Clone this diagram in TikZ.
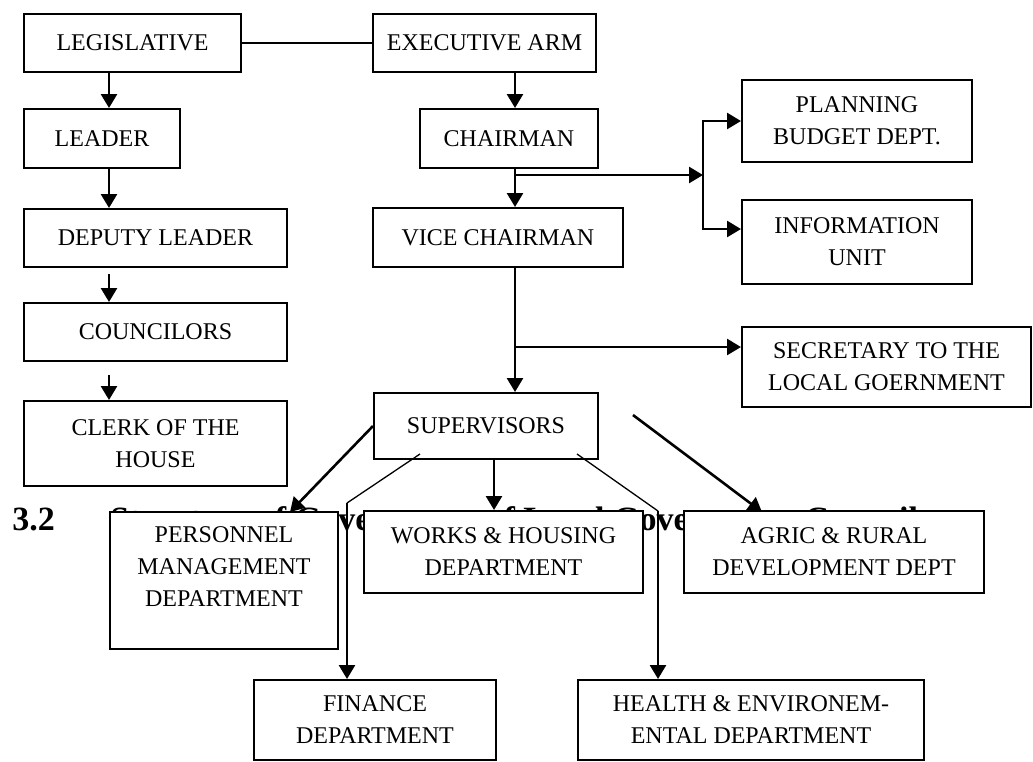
\documentclass[tikz,border=0pt]{standalone}
\usepackage{fontspec}
\setmainfont{Liberation Serif}
\usepackage{tikz}
\usetikzlibrary{positioning, arrows.meta}

\begin{document}
\begin{tikzpicture}[x=0.5pt, y=-0.5pt,
        orgbox/.style={draw, fill=white, line width=1pt, anchor=north west, inner sep=0pt,
            align=center, font=\fontsize{12}{16}\selectfont},
        headtext/.style={anchor=base west, inner sep=0pt, font=\fontsize{17}{20}\selectfont\bfseries},
        arr/.style={line width=1.3pt, -{Triangle[length=7pt,width=8pt]}},
        link/.style={line width=1pt},
        thinlink/.style={line width=0.65pt}]
    \useasboundingbox (0,0) rectangle (1033,761);
    \node[headtext] (secnum) at (12,530) {3.2};
    \node[headtext] (sectitle) at (110,530) {Structure of Government of Local Government Council};

    \node[orgbox, minimum width=108.5pt, minimum height=29pt] (leg) at (23,13) {LEGISLATIVE};
    \node[orgbox, minimum width=111.5pt, minimum height=29pt] (exec) at (372,13) {EXECUTIVE ARM};
    \node[orgbox, minimum width=78pt, minimum height=29.5pt] (leader) at (23,108) {LEADER};
    \node[orgbox, minimum width=89pt, minimum height=29.5pt] (chair) at (419,108) {CHAIRMAN};
    \node[orgbox, minimum width=115pt, minimum height=41pt] (plan) at (741,79) {PLANNING\\BUDGET DEPT.};
    \node[orgbox, minimum width=131.5pt, minimum height=29pt] (deputy) at (23,208) {DEPUTY LEADER};
    \node[orgbox, minimum width=125pt, minimum height=29.5pt] (vice) at (372,207) {VICE CHAIRMAN};
    \node[orgbox, minimum width=115pt, minimum height=42pt] (info) at (741,199) {INFORMATION\\UNIT};
    \node[orgbox, minimum width=131.5pt, minimum height=29pt] (council) at (23,302) {COUNCILORS};
    \node[orgbox, minimum width=144.5pt, minimum height=40pt] (secr) at (741,326) {SECRETARY TO THE\\LOCAL GOERNMENT};
    \node[orgbox, minimum width=131.5pt, minimum height=42.5pt] (clerk) at (23,400) {CLERK OF THE\\HOUSE};
    \node[orgbox, minimum width=112pt, minimum height=33pt] (super) at (373,392) {SUPERVISORS};
    \node[orgbox, minimum width=114pt, minimum height=68.5pt, text depth=14pt] (personnel) at (109,511) {PERSONNEL\\MANAGEMENT\\DEPARTMENT};
    \node[orgbox, minimum width=139.5pt, minimum height=41pt] (works) at (363,510) {WORKS \& HOUSING\\DEPARTMENT};
    \node[orgbox, minimum width=150pt, minimum height=41pt] (agric) at (683,510) {AGRIC \& RURAL\\DEVELOPMENT DEPT};
    \node[orgbox, minimum width=121pt, minimum height=40pt] (finance) at (253,679) {FINANCE\\DEPARTMENT};
    \node[orgbox, minimum width=173pt, minimum height=40pt] (health) at (577,679) {HEALTH \& ENVIRONEM-\\ENTAL DEPARTMENT};

    \coordinate (lcol) at (109,0);
    \coordinate (rcol) at (515,0);
    \coordinate (chairbr) at (515,175);
    \coordinate (bracket) at (703,175);
    \coordinate (infoin) at (741,229);
    \coordinate (vicebr) at (515,347);
    \coordinate (persontip) at (290,512);
    \coordinate (finfrom) at (420,454);
    \coordinate (finbend) at (347,503);
    \coordinate (workcol) at (494,0);
    \coordinate (healthfrom) at (577,454);
    \coordinate (healthbend) at (658,511);
    \coordinate (agricfrom) at (633,415);
    \coordinate (agrictip) at (762,512);

    \draw[link] (leg) -- (exec);
    \draw[arr] (leg.south -| lcol) -- (leader.north -| lcol);
    \draw[arr] (leader.south -| lcol) -- (deputy.north -| lcol);
    \draw[arr, shorten <=3pt] (deputy.south -| lcol) -- (council.north -| lcol);
    \draw[arr, shorten <=6.5pt] (council.south -| lcol) -- (clerk.north -| lcol);

    \draw[arr] (exec.south -| rcol) -- (chair.north -| rcol);
    \draw[arr] (chair.south -| rcol) -- (vice.north -| rcol);
    \draw[arr] (chairbr) -- (bracket);
    \draw[arr] (bracket) |- (plan.west);
    \draw[arr] (bracket) |- (infoin);
    \draw[arr] (vice.south -| rcol) -- (super.north -| rcol);
    \draw[arr] (vicebr) -- (secr.west |- vicebr);

    \draw[arr] (super.west) -- (persontip);
    \draw[thinlink] (finfrom) -- (finbend);
    \draw[arr] (finbend) -- (finance.north -| finbend);
    \draw[arr] (super.south -| workcol) -- (works.north -| workcol);
    \draw[thinlink] (healthfrom) -- (healthbend);
    \draw[arr] (healthbend) -- (health.north -| healthbend);
    \draw[arr] (agricfrom) -- (agrictip);
\end{tikzpicture}
\end{document}
